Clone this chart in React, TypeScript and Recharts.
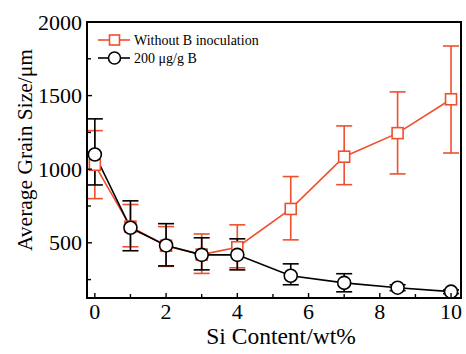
import React from 'react';
import { ComposedChart, Line, XAxis, YAxis, ErrorBar, Customized } from 'recharts';

const siContent = [0, 1, 2, 3, 4, 5.5, 7, 8.5, 10];
const withoutBMean = [1030, 610, 480, 420, 470, 730, 1085, 1245, 1475];
const withoutBLow = [800, 473, 340, 292, 330, 520, 895, 968, 1110];
const withoutBHigh = [1262, 760, 610, 560, 622, 950, 1294, 1525, 1837];
const withBMean = [1100, 602, 482, 418, 418, 276, 228, 195, 168];
const withBLow = [893, 446, 343, 316, 316, 215, 167, 175, 155];
const withBHigh = [1342, 785, 630, 534, 527, 357, 290, 215, 180];

const xTicks = [0, 1, 2, 3, 4, 5, 6, 7, 8, 9, 10];
const xMajor = [0, 2, 4, 6, 8, 10];
const yTicks = [250, 500, 750, 1000, 1250, 1500, 1750, 2000];
const yMajor = [500, 1000, 1500, 2000];
const xDomain = [-0.22, 10.28];
const yDomain = [125, 2000];

const RED = '#EE4F2D';
const FONT = 'Liberation Serif';
const fontStyle = { fontFamily: "'Liberation Serif', 'Times New Roman', serif" };

const redData = siContent.map((x, i) => ({
  x,
  y: withoutBMean[i],
  err: [withoutBMean[i] - withoutBLow[i], withoutBHigh[i] - withoutBMean[i]],
}));
const blackData = siContent.map((x, i) => ({
  x,
  y: withBMean[i],
  err: [withBMean[i] - withBLow[i], withBHigh[i] - withBMean[i]],
}));

const SquareDot = (props: any) => {
  const { cx, cy } = props;
  if (cx == null || cy == null) return null;
  return <rect x={cx - 5.5} y={cy - 5.5} width={11} height={11} fill="#fff" stroke={RED} strokeWidth={1.6} />;
};
const CircleDot = (props: any) => {
  const { cx, cy } = props;
  if (cx == null || cy == null) return null;
  return <circle cx={cx} cy={cy} r={6.5} fill="#fff" stroke="#000" strokeWidth={1.6} />;
};

const YTick = (props: any) => {
  const { x, y, payload } = props;
  const axisX = x + 5;
  const major = yMajor.includes(payload.value);
  return (
    <g>
      <line x1={axisX} x2={axisX + (major ? 5 : 4)} y1={y} y2={y} stroke="#000" strokeWidth={1.4} />
      {major && (
        <text x={x} y={y + 7.5} textAnchor="end" style={fontStyle} fontFamily={FONT} fontSize={22} fill="#000">
          {payload.value}
        </text>
      )}
    </g>
  );
};

const XTick = (props: any) => {
  const { x, y, payload } = props;
  const axisY = y;
  const major = xMajor.includes(payload.value);
  return (
    <g>
      <line x1={x} x2={x} y1={axisY} y2={axisY - (major ? 5 : 4)} stroke="#000" strokeWidth={1.4} />
      {major && (
        <text x={x} y={axisY + 21} textAnchor="middle" style={fontStyle} fontFamily={FONT} fontSize={22} fill="#000">
          {payload.value}
        </text>
      )}
    </g>
  );
};

const Overlay = () => (
  <g style={fontStyle} fontFamily={FONT} fill="#000">
    <rect x={87} y={22} width={374} height={276} fill="none" stroke="#000" strokeWidth={2} />
    <text x={25} y={150} transform="rotate(-90 25 150)" textAnchor="middle" dominantBaseline="central" fontSize={21.5} style={fontStyle}>
      Average Grain Size/μm
    </text>
    <text x={281} y={344} textAnchor="middle" fontSize={23.5} style={fontStyle}>
      Si Content/wt%
    </text>
    <line x1={98} x2={130} y1={40} y2={40} stroke={RED} strokeWidth={1.6} />
    <rect x={109.5} y={35} width={10} height={10} fill="#fff" stroke={RED} strokeWidth={1.6} />
    <text x={134} y={45} fontSize={14} style={fontStyle}>Without B inoculation</text>
    <line x1={98} x2={130} y1={58} y2={58} stroke="#000" strokeWidth={1.6} />
    <circle cx={114.5} cy={58} r={6} fill="#fff" stroke="#000" strokeWidth={1.6} />
    <text x={134} y={63} fontSize={14} style={fontStyle}>200 μg/g B</text>
  </g>
);

export default function App() {
  return (
    <div style={{ position: 'absolute', left: 0, top: 0, width: 466, height: 354, background: '#fff' }}>
      <ComposedChart width={466} height={354} margin={{ top: 22, right: 5, left: 0, bottom: 0 }} style={fontStyle}>
        <XAxis
          type="number"
          dataKey="x"
          domain={xDomain}
          ticks={xTicks}
          allowDataOverflow
          height={56}
          tickLine={false}
          tickSize={0}
          tickMargin={0}
          tick={<XTick />}
          stroke="#000"
          axisLine={{ stroke: '#000', strokeWidth: 2 }}
          interval={0}
        />
        <YAxis
          type="number"
          domain={yDomain}
          ticks={yTicks}
          allowDataOverflow
          width={87}
          tickLine={false}
          tickSize={0}
          tickMargin={5}
          tick={<YTick />}
          stroke="#000"
          axisLine={{ stroke: '#000', strokeWidth: 2 }}
          interval={0}
        />
        <Line
          data={redData}
          dataKey="y"
          stroke={RED}
          strokeWidth={1.6}
          dot={<SquareDot />}
          isAnimationActive={false}
        >
          <ErrorBar dataKey="err" direction="y" width={8} stroke={RED} strokeWidth={1.6} />
        </Line>
        <Line
          data={blackData}
          dataKey="y"
          stroke="#000"
          strokeWidth={1.6}
          dot={<CircleDot />}
          isAnimationActive={false}
        >
          <ErrorBar dataKey="err" direction="y" width={8} stroke="#000" strokeWidth={1.6} />
        </Line>
        <Customized component={Overlay} />
      </ComposedChart>
    </div>
  );
}
